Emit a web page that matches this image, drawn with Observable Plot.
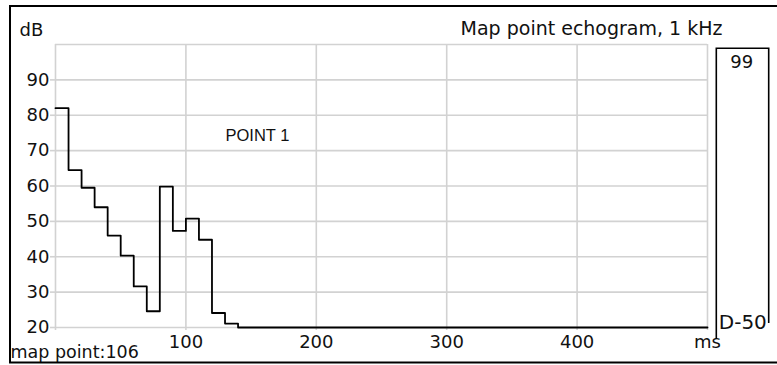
<!DOCTYPE html>
<html>
<head>
<meta charset="utf-8">
<script src="https://cdn.jsdelivr.net/npm/d3@7"></script>
<script src="https://cdn.jsdelivr.net/npm/@observablehq/plot@0.6"></script>
<style>
  html, body { margin: 0; padding: 0; background: #fff; overflow: hidden; }
  #chart svg { display: block; }
</style>
</head>
<body>
<div id="chart"></div>
<script>
// Echogram bins (ms, start of each 10 ms bin; last entry closes the floor)
const binStartMs = [0, 10, 20, 30, 40, 50, 60, 70, 80, 90, 100, 110, 120, 130, 140, 500];
const levelDb    = [82, 64.5, 59.5, 54, 46, 40.3, 31.6, 24.6, 59.8, 47.3, 50.8, 44.8, 24.1, 21.1, 20, 20];

const xTicks = [0, 100, 200, 300, 400, 500];
const xTickLabels = ["", "100", "200", "300", "400", "ms"];
const yGrid = [20, 30, 40, 50, 60, 70, 80, 90, 100];
const yTicks = [20, 30, 40, 50, 60, 70, 80, 90];

const titleText = "Map point echogram, 1 kHz";
const unitText = "dB";
const pointLabel = "POINT 1";
const mapPointText = "map point:106";
const gaugeTop = "99";
const gaugeBottom = "D-50";

const data = binStartMs.map((t, i) => ({t, db: levelDb[i]}));
const grid = "#d2d2d2";
const ink = "#111";

const chart = Plot.plot({
  width: 777,
  height: 365,
  marginLeft: 55,
  marginRight: 70,
  marginTop: 44,
  marginBottom: 38,
  style: {fontFamily: "'DejaVu Sans', sans-serif", fontSize: "18px", color: ink, background: "#fff"},
  x: {domain: [0, 500], label: null},
  y: {domain: [20, 100], label: null},
  marks: [
    Plot.gridX(xTicks, {stroke: grid, strokeOpacity: 1, strokeWidth: 1.6}),
    Plot.gridY(yGrid, {stroke: grid, strokeOpacity: 1, strokeWidth: 1.6}),
    Plot.axisY(yTicks, {tickSize: 5, tickPadding: 1, stroke: grid, strokeWidth: 1.6, fill: ink, fontSize: 18, label: null}),
    Plot.axisX(xTicks, {tickSize: 3, tickPadding: 5, stroke: grid, strokeWidth: 1.6, fill: ink, fontSize: 18, label: null,
      tickFormat: d => xTickLabels[xTicks.indexOf(d)]}),
    Plot.line(data, {x: "t", y: "db", curve: "step-after", stroke: "#000", strokeWidth: 1.8}),
    Plot.text([unitText], {text: d => d, frameAnchor: "top-left", lineAnchor: "middle", textAnchor: "start", dx: -36, dy: -14.1, fontSize: 18, fill: ink}),
    Plot.text([titleText], {text: d => d, frameAnchor: "top-right", lineAnchor: "middle", textAnchor: "end", dx: 15, dy: -15.1, fontSize: 19, fill: ink}),
    Plot.text([pointLabel], {text: d => d, frameAnchor: "top-left", lineAnchor: "middle", textAnchor: "start", dx: 170, dy: 91.4, fontSize: 16.5, fontFamily: "'Liberation Sans', Arial, sans-serif", fill: ink}),
    Plot.text([mapPointText], {text: d => d, frameAnchor: "bottom-left", lineAnchor: "middle", textAnchor: "start", dx: -45, dy: 24.7, fontSize: 17.5, fill: ink}),
    Plot.text([gaugeTop], {text: d => d, frameAnchor: "top-right", lineAnchor: "middle", textAnchor: "middle", dx: 34.3, dy: 17.5, fontSize: 18, fill: ink}),
    Plot.text([gaugeBottom], {text: d => d, frameAnchor: "bottom-right", lineAnchor: "middle", textAnchor: "middle", dx: 35.3, dy: -5, fontSize: 20, fill: ink})
  ]
});

const svg = d3.select(chart);
// outer frame: top, left and bottom edges
svg.append("path")
  .attr("d", "M777,6 H10 V362.5 H777")
  .attr("fill", "none").attr("stroke", "#000").attr("stroke-width", 2);
// gauge box (open at the bottom)
svg.append("path")
  .attr("d", "M716.3,339 V48.3 H768.7 V323")
  .attr("fill", "none").attr("stroke", "#000").attr("stroke-width", 1.6);

document.getElementById("chart").appendChild(chart);
</script>
</body>
</html>
